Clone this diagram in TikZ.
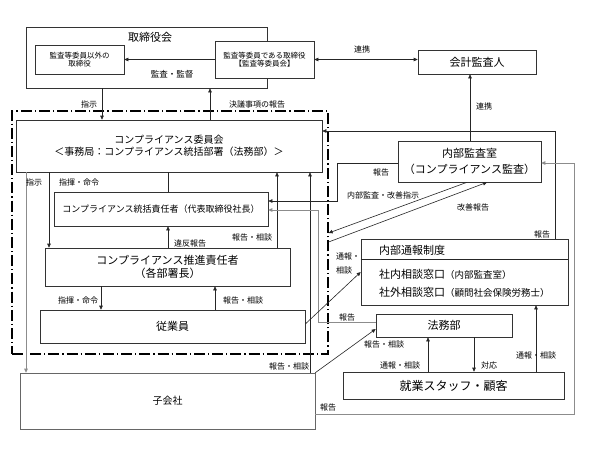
\documentclass[tikz,border=0pt]{standalone}
\usepackage{fontspec}
\setmainfont{Noto Sans CJK JP}
\usetikzlibrary{arrows.meta}
\newcommand{\fs}[1]{\fontsize{#1}{#1}\selectfont}
\begin{document}
\begin{tikzpicture}[x=1pt,y=-1pt,
  box/.style={draw=black!80, line width=0.6pt, fill=white, rectangle, inner sep=0pt, align=center},
  txt/.style={inner sep=0pt, align=center},
  lbl/.style={inner sep=0.5pt, font=\fs{8}},
  conn/.style={line width=0.6pt, draw=black!85},
  arr/.style={conn, -{Triangle[length=4pt,width=3.5pt]}},
  dbl/.style={conn, {Triangle[length=4pt,width=3.5pt]}-{Triangle[length=4pt,width=3.5pt]}},
  grey/.style={draw=black!45, line width=0.9pt},
  area/.style={draw=black, line width=1.2pt, dash pattern=on 11pt off 3pt on 1.2pt off 3pt, rectangle, inner sep=0pt}
]
\useasboundingbox[fill=white] (0,0) rectangle (600,450);

% compliance area
\node[area, minimum width=316, minimum height=243] (area) at (170,232.5) {};

% boxes
\node[box, minimum width=241, minimum height=61] (bod) at (146.5,57.5) {};
\node[txt, font=\fs{11}] (bodt) at (150,37) {取締役会};
\node[box, minimum width=89, minimum height=29, font=\fs{7.5}] (nonaud) at (79.5,59.5) {監査等委員以外の\\[1pt]取締役};
\node[box, minimum width=99, minimum height=37, font=\fs{7.5}] (audc) at (264.5,59.5) {監査等委員である取締役\\[1pt]【監査等委員会】};
\node[box, minimum width=118, minimum height=24, font=\fs{11}] (acc) at (477,62) {会計監査人};
\node[box, minimum width=306, minimum height=52, font=\fs{10}] (comm) at (169,146) {コンプライアンス委員会\\[2pt]＜事務局：コンプライアンス統括部署（法務部）＞};
\node[box, minimum width=214, minimum height=34, font=\fs{9}] (chief) at (161,209) {コンプライアンス統括責任者（代表取締役社長）};
\node[box, minimum width=245, minimum height=38, font=\fs{11}] (promo) at (167.5,267) {コンプライアンス推進責任者\\[2pt]（各部署長）};
\node[box, minimum width=265, minimum height=33, font=\fs{11}] (emp) at (172.5,326.5) {従業員};
\node[box, draw=black!60, minimum width=295, minimum height=56, font=\fs{10}] (sub) at (167.5,401) {子会社};
\node[box, minimum width=143, minimum height=41, font=\fs{11}] (iaud) at (469.5,161.5) {内部監査室\\[5pt]（コンプライアンス監査）};
\node[box, minimum width=207, minimum height=66] (whis) at (464.5,272) {};
\coordinate (dv) at (0,259);
\draw[conn, line width=0.6pt] (whis.west |- dv) -- (whis.east |- dv);
\node[txt, anchor=west, font=\fs{11}] (whis1) at (379,250) {内部通報制度};
\node[txt, anchor=west, font=\fs{11}] (whis2) at (379,274) {社内相談窓口{\fs{9.5}（内部監査室）}};
\node[txt, anchor=west, font=\fs{11}] (whis3) at (379,292) {社外相談窓口{\fs{9.5}（顧問社会保険労務士）}};
\node[box, minimum width=136, minimum height=23, font=\fs{11}] (legal) at (444,325.5) {法務部};
\node[box, minimum width=221, minimum height=27, font=\fs{12}] (staff) at (453.5,385.5) {就業スタッフ・顧客};

% x positions / corner coordinates
\coordinate (c26) at (26,0);
\coordinate (c49) at (49,0);
\coordinate (c101) at (101,0);
\coordinate (c102) at (102,0);
\coordinate (c168) at (168,0);
\coordinate (c210) at (210,0);
\coordinate (c215) at (215,0);
\coordinate (c277) at (277,0);
\coordinate (c310) at (310,0);
\coordinate (c428) at (428,0);
\coordinate (c467) at (467,0);
\coordinate (c470) at (470,0);
\coordinate (c474) at (474,0);
\coordinate (c487) at (487,0);
\coordinate (c536) at (536,0);
\coordinate (k1) at (337,163);
\coordinate (k2) at (337,201);
\coordinate (k3) at (318,322);
\coordinate (k4) at (318,210);
\coordinate (k6) at (0,233);
\coordinate (k7) at (0,242);
\coordinate (k8) at (555,131);
\coordinate (k9) at (0,324);
\coordinate (k10) at (0,272);
\coordinate (k11) at (0,329);
\coordinate (k12) at (574,414);
\coordinate (k13) at (574,163);

% connectors
\draw[arr] (audc.west) -- (nonaud.east |- audc.west);
\node[lbl, font=\fs{8.5}] (l1) at (172,74) {監査・監督};
\draw[dbl] (audc.east) -- (acc.west |- audc.east);
\node[lbl] (l2) at (362,49) {連携};
\draw[arr] (iaud.north -| c470) -- (acc.south -| c470);
\node[lbl] (l3) at (484,106) {連携};
\draw[arr] (bod.south -| c102) -- (comm.north -| c102);
\node[lbl] (l4) at (89,104) {指示};
\draw[arr] (comm.north -| c210) -- (bod.south -| c210);
\node[lbl] (l5) at (257,104) {決議事項の報告};
\draw[arr, grey] (comm.south -| c26) -- (sub.north -| c26);
\node[lbl] (l6) at (34,182) {指示};
\draw[arr] (comm.south -| c49) -- (promo.north -| c49);
\node[lbl] (l7) at (79,182) {指揮・命令};
\draw[conn] (comm.south -| c168) -- (chief.north -| c168);
\draw[arr] (promo.north -| c168) -- (chief.south -| c168);
\node[lbl] (l8) at (190,243) {違反報告};
\draw[arr] (promo.north -| c277) -- (comm.south -| c277);
\node[lbl] (l9) at (252,237) {報告・相談};
\draw[arr] (sub.north -| c310) -- (comm.south -| c310);
\node[lbl] (l10) at (289,366) {報告・相談};
\draw[arr] (promo.south -| c101) -- (emp.north -| c101);
\node[lbl] (l11) at (78,300) {指揮・命令};
\draw[arr] (emp.north -| c215) -- (promo.south -| c215);
\node[lbl] (l12) at (243,300) {報告・相談};
\draw[arr] (iaud.west |- k1) -- (k1) -- (k2) -- (chief.east |- k2);
\node[lbl] (l13) at (381,172) {報告};
\draw[arr, grey] (legal.west |- k3) -- (k3) -- (k4) -- (chief.east |- k4);
\node[lbl] (l15) at (347,317) {報告};
\draw[arr] (iaud.south -| c467) -- (area.east |- k6);
\node[lbl] (l14) at (383,195) {内部監査・改善指示};
\draw[arr] (area.east |- k7) -- (iaud.south -| c487);
\node[lbl] (l16) at (473,207) {改善報告};
\draw[arr] (whis.north -| k8) -- (k8) -- (comm.east |- k8);
\node[lbl] (l17) at (542,234) {報告};
\draw[arr] (emp.east |- k9) -- (whis.west |- k10);
\node[lbl] (l18) at (348,256) {通報・};
\node[lbl] (l19) at (344,270) {相談};
\draw[arr] (sub.north east) -- (legal.west |- k11);
\node[lbl] (l20) at (384,344) {報告・相談};
\draw[arr] (staff.north -| c428) -- (legal.south -| c428);
\node[lbl] (l21) at (400,365) {通報・相談};
\draw[arr] (legal.south -| c474) -- (staff.north -| c474);
\node[lbl] (l22) at (489,365) {対応};
\draw[arr] (staff.north -| c536) -- (whis.south -| c536);
\node[lbl] (l23) at (536,355) {通報・相談};
\draw[arr, grey] (sub.east |- k12) -- (k12) -- (k13) -- (iaud.east |- k13);
\node[lbl] (l24) at (328,407) {報告};
\end{tikzpicture}
\end{document}
